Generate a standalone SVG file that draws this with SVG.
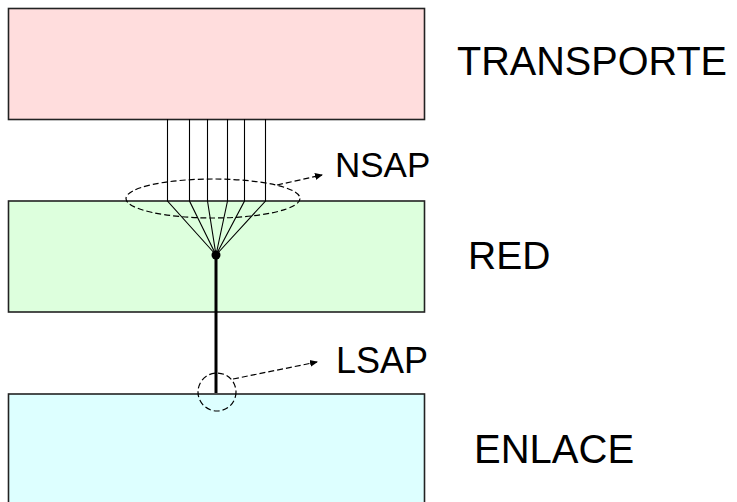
<svg xmlns="http://www.w3.org/2000/svg" width="737" height="502" viewBox="0 0 737 502">
<defs>
<style>
.box{stroke:#222;stroke-width:1.6}
.lbl{font-family:"Liberation Sans",Arial,sans-serif;fill:#000}
.thin{stroke:#000;stroke-width:1.1;fill:none}
.dash{stroke:#000;stroke-width:1.2;fill:none;stroke-dasharray:6 3}
</style>
<marker id="ah" viewBox="0 0 8 8" refX="7" refY="4" markerWidth="8" markerHeight="8" markerUnits="userSpaceOnUse" orient="auto">
<path d="M0,0.5 L8,4 L0,7.5 z" fill="#000"/>
</marker>
</defs>
<rect width="737" height="502" fill="#fff"/>
<g id="transporte">
<rect class="box" x="8.5" y="8.5" width="416" height="111" fill="#FFDDDD"/>
<text class="lbl" x="457" y="75" font-size="40" textLength="270" lengthAdjust="spacingAndGlyphs">TRANSPORTE</text>
</g>
<g id="red">
<rect class="box" x="8.5" y="201" width="416" height="111" fill="#DDFFDD"/>
<text class="lbl" x="468" y="269" font-size="39">RED</text>
</g>
<g id="enlace">
<rect class="box" x="8.5" y="394" width="416" height="120" fill="#DDFFFF"/>
<text class="lbl" x="474" y="463" font-size="40">ENLACE</text>
</g>
<g id="connectors">
<g class="thin">
<path d="M167.5,119 V201 L216,255"/>
<path d="M189.5,119 V201 L216,255"/>
<path d="M207.5,119 V201 L216,255"/>
<path d="M227.5,119 V201 L216,255"/>
<path d="M244.5,119 V201 L216,255"/>
<path d="M265.5,119 V201 L216,255"/>
</g>
<line x1="216" y1="255" x2="216" y2="393" stroke="#000" stroke-width="3"/>
<circle cx="216" cy="255" r="4.5" fill="#000"/>
</g>
<g id="nsap">
<ellipse class="dash" cx="213" cy="198.5" rx="87" ry="19.5"/>
<line class="dash" x1="277" y1="185" x2="322" y2="175" marker-end="url(#ah)"/>
<text class="lbl" x="335" y="177" font-size="35">NSAP</text>
</g>
<g id="lsap">
<circle class="dash" cx="217" cy="392" r="19"/>
<line class="dash" x1="233" y1="379" x2="317" y2="362" marker-end="url(#ah)"/>
<text class="lbl" x="336" y="373" font-size="36">LSAP</text>
</g>
</svg>
